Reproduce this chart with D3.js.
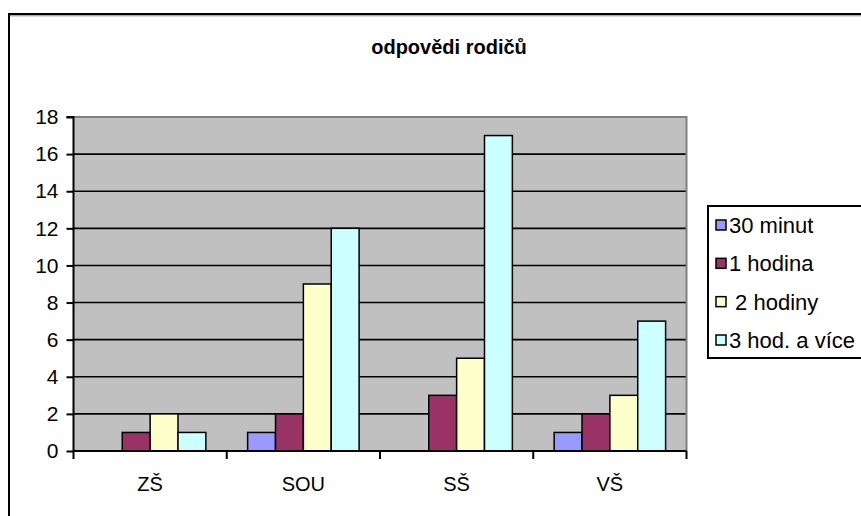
<!DOCTYPE html>
<html>
<head>
<meta charset="utf-8">
<script src="https://cdn.jsdelivr.net/npm/d3@7/dist/d3.min.js"></script>
<style>
  html, body { margin: 0; padding: 0; background: #fff; }
  svg { display: block; font-family: "Liberation Sans", Arial, sans-serif; }
</style>
</head>
<body>
<svg id="chart" width="861" height="516"></svg>
<script>
const categories = ["ZŠ", "SOU", "SŠ", "VŠ"];
const seriesNames = ["30 minut", "1 hodina", " 2 hodiny", "3 hod. a více"];
const s30min = [0, 1, 0, 1];
const s1hod = [1, 2, 3, 2];
const s2hod = [2, 9, 5, 3];
const s3hod = [1, 12, 17, 7];
const seriesColors = ["#9999FF", "#993366", "#FFFFCC", "#CCFFFF"];
const yTicks = [0, 2, 4, 6, 8, 10, 12, 14, 16, 18];
const title = "odpovědi rodičů";

const seriesValues = [s30min, s1hod, s2hod, s3hod];
const data = categories.map((c, i) => ({
  cat: c,
  vals: seriesValues.map((s, j) => ({ key: j, value: s[i] }))
}));

const svg = d3.select("#chart");
const plot = { left: 73.5, top: 117, right: 686.5, bottom: 451 };

// outer border
svg.append("rect").attr("x", 9).attr("y", 14).attr("width", 900).attr("height", 560)
  .attr("fill", "none").attr("stroke", "#000").attr("stroke-width", 2);
svg.append("line").attr("x1", 10).attr("x2", 861).attr("y1", 15.8).attr("y2", 15.8)
  .attr("stroke", "#888").attr("stroke-width", 1);

// title
svg.append("text").attr("x", 449).attr("y", 54).attr("text-anchor", "middle")
  .attr("font-weight", "bold").attr("font-size", 20).text(title);

const x0 = d3.scaleBand().domain(categories).range([plot.left, plot.right]).paddingInner(0).paddingOuter(0);
const catW = x0.bandwidth();
const barW = catW / (seriesNames.length + 1.5);
const x1 = d3.scaleBand().domain(d3.range(seriesNames.length))
  .range([barW * 0.75, barW * 0.75 + barW * seriesNames.length]);
const y = d3.scaleLinear().domain([0, 18]).range([plot.bottom, plot.top]);

// plot background
svg.append("rect").attr("x", plot.left).attr("y", plot.top)
  .attr("width", plot.right - plot.left).attr("height", plot.bottom - plot.top)
  .attr("fill", "#C0C0C0");

// gridlines
svg.append("g").selectAll("line").data(yTicks.filter(d => d > 0 && d < 18)).join("line")
  .attr("x1", plot.left).attr("x2", plot.right)
  .attr("y1", d => y(d)).attr("y2", d => y(d))
  .attr("stroke", "#000").attr("stroke-width", 1.6);

// plot top & right border (gray)
svg.append("path")
  .attr("d", `M${plot.left},${plot.top}H${plot.right}V${plot.bottom}`)
  .attr("fill", "none").attr("stroke", "#808080").attr("stroke-width", 2);

// bars
const groups = svg.append("g").selectAll("g").data(data).join("g")
  .attr("transform", d => `translate(${x0(d.cat)},0)`);
groups.selectAll("rect").data(d => d.vals.filter(v => v.value > 0)).join("rect")
  .attr("x", d => x1(d.key)).attr("width", x1.bandwidth())
  .attr("y", d => y(d.value)).attr("height", d => y(0) - y(d.value))
  .attr("fill", d => seriesColors[d.key])
  .attr("stroke", "#000").attr("stroke-width", 1.5);

// y axis
const yAxis = d3.axisLeft(y).tickValues(yTicks).tickSize(7).tickPadding(8);
const gy = svg.append("g").attr("transform", `translate(${plot.left},0)`).call(yAxis);
gy.select(".domain").attr("stroke", "#000").attr("stroke-width", 2).attr("d", `M-7,${plot.top}H0V${plot.bottom}`);
gy.selectAll(".tick line").attr("stroke", "#000").attr("stroke-width", 2);
gy.selectAll(".tick text").attr("font-size", 21).attr("fill", "#000")
  .attr("font-family", "Liberation Sans, Arial, sans-serif");

// x axis
const xAxis = d3.axisBottom(x0).tickSize(0).tickPadding(26);
const gx = svg.append("g").attr("transform", `translate(0,${plot.bottom})`).call(xAxis);
gx.select(".domain").attr("stroke", "#000").attr("stroke-width", 2).attr("d", `M${plot.left},0H${plot.right}`);
gx.selectAll(".tick text").attr("font-size", 20).attr("fill", "#000")
  .attr("font-family", "Liberation Sans, Arial, sans-serif");
// category boundary ticks
const bounds = categories.map(c => x0(c)).concat([plot.right]);
gx.append("g").selectAll("line").data(bounds).join("line")
  .attr("x1", d => d).attr("x2", d => d).attr("y1", 0).attr("y2", 8)
  .attr("stroke", "#000").attr("stroke-width", 2);

// legend
const lg = svg.append("g");
lg.append("rect").attr("x", 708).attr("y", 206).attr("width", 200).attr("height", 152)
  .attr("fill", "#fff").attr("stroke", "#000").attr("stroke-width", 2);
const rowY = d3.scalePoint().domain(d3.range(seriesNames.length)).range([225, 340]);
const items = lg.selectAll("g.item").data(seriesNames).join("g").attr("class", "item")
  .attr("transform", (d, i) => `translate(0,${rowY(i)})`);
items.append("rect").attr("x", 716).attr("y", -5).attr("width", 10).attr("height", 10)
  .attr("fill", (d, i) => seriesColors[i]).attr("stroke", "#000").attr("stroke-width", 1.5);
items.append("text").attr("x", 729).attr("y", 0).attr("dy", "0.36em")
  .attr("font-size", 22).attr("xml:space", "preserve").style("white-space", "pre").text(d => d);
</script>
</body>
</html>
